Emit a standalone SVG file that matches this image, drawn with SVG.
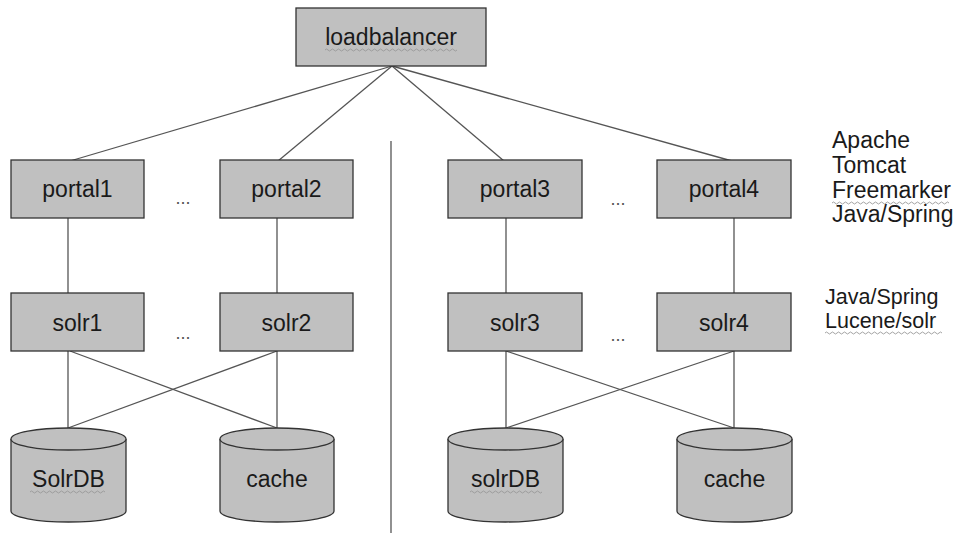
<svg xmlns="http://www.w3.org/2000/svg" width="961" height="540" viewBox="0 0 961 540">
<defs>
<style>
.box{fill:#c0c0c0;stroke:#333;stroke-width:1.3}
.lbl{font-family:"Liberation Sans",Arial,sans-serif;font-size:23px;fill:#1a1a1a;text-anchor:middle}
.side{font-family:"Liberation Sans",Arial,sans-serif;font-size:23px;fill:#1a1a1a}
.side2{font-family:"Liberation Sans",Arial,sans-serif;font-size:21.5px;fill:#1a1a1a}
.dots{font-family:"Liberation Sans",Arial,sans-serif;font-size:18px;fill:#555;text-anchor:middle}
.conn{stroke:#555;stroke-width:1.3;fill:none}
.sq{stroke:#999;stroke-width:0.9;fill:none}
</style>
</defs>
<rect width="961" height="540" fill="#fff"/>
<g id="connectors">
<line class="conn" x1="392" y1="66" x2="70" y2="161"/>
<line class="conn" x1="392" y1="66" x2="278" y2="161"/>
<line class="conn" x1="392" y1="66" x2="504" y2="161"/>
<line class="conn" x1="392" y1="66" x2="732" y2="161"/>
<line class="conn" x1="68" y1="218" x2="68" y2="293"/>
<line class="conn" x1="277" y1="218" x2="277" y2="293"/>
<line class="conn" x1="506" y1="218" x2="506" y2="293"/>
<line class="conn" x1="734" y1="218" x2="734" y2="293"/>
<line class="conn" x1="68" y1="351" x2="68" y2="428"/>
<line class="conn" x1="70" y1="351" x2="277" y2="428"/>
<line class="conn" x1="277" y1="351" x2="68" y2="428"/>
<line class="conn" x1="277" y1="351" x2="277" y2="428"/>
<line class="conn" x1="506" y1="351" x2="506" y2="428"/>
<line class="conn" x1="506" y1="351" x2="734" y2="428"/>
<line class="conn" x1="734" y1="351" x2="506" y2="428"/>
<line class="conn" x1="734" y1="351" x2="734" y2="428"/>
<line class="conn" x1="391" y1="141" x2="391" y2="533"/>
</g>
<g id="loadbalancer">
<rect class="box" x="296" y="8" width="190" height="58"/>
<text class="lbl" x="391" y="45">loadbalancer</text>
<path class="sq" d="M325,50 q1.5,-2 3,0 t3,0 t3,0 t3,0 t3,0 t3,0 t3,0 t3,0 t3,0 t3,0 t3,0 t3,0 t3,0 t3,0 t3,0 t3,0 t3,0 t3,0 t3,0 t3,0 t3,0 t3,0 t3,0 t3,0 t3,0 t3,0 t3,0 t3,0 t3,0 t3,0 t3,0 t3,0 t3,0 t3,0 t3,0 t3,0 t3,0 t3,0 t3,0 t3,0 t3,0 t3,0 t3,0 t3,0"/>
</g>
<g id="portal1"><rect class="box" x="11" y="160" width="133" height="58"/><text class="lbl" x="77.5" y="197">portal1</text></g>
<g id="portal2"><rect class="box" x="220" y="160" width="133" height="58"/><text class="lbl" x="286.5" y="197">portal2</text></g>
<g id="portal3"><rect class="box" x="448" y="160" width="134" height="58"/><text class="lbl" x="515" y="197">portal3</text></g>
<g id="portal4"><rect class="box" x="657" y="160" width="134" height="58"/><text class="lbl" x="724" y="197">portal4</text></g>
<g id="solr1"><rect class="box" x="11" y="293" width="133" height="58"/><text class="lbl" x="77.5" y="331">solr1</text></g>
<g id="solr2"><rect class="box" x="220" y="293" width="133" height="58"/><text class="lbl" x="286.5" y="331">solr2</text></g>
<g id="solr3"><rect class="box" x="448" y="293" width="134" height="58"/><text class="lbl" x="515" y="331">solr3</text></g>
<g id="solr4"><rect class="box" x="657" y="293" width="134" height="58"/><text class="lbl" x="724" y="331">solr4</text></g>
<g id="ellipses">
<text class="dots" x="183" y="204">...</text>
<text class="dots" x="183" y="339">...</text>
<text class="dots" x="618" y="205">...</text>
<text class="dots" x="618" y="341">...</text>
</g>
<g id="solrDB1">
<path class="box" d="M11,439 L11,511 A57.5,11 0 0 0 126,511 L126,439"/>
<ellipse class="box" cx="68.5" cy="439" rx="57.5" ry="11"/>
<text class="lbl" x="68.5" y="487">SolrDB</text>
<path class="sq" d="M30,492 q1.5,-2 3,0 t3,0 t3,0 t3,0 t3,0 t3,0 t3,0 t3,0 t3,0 t3,0 t3,0 t3,0 t3,0 t3,0 t3,0 t3,0 t3,0 t3,0 t3,0 t3,0 t3,0 t3,0 t3,0 t3,0 t3,0"/>
</g>
<g id="cache1">
<path class="box" d="M220,439 L220,511 A57,11 0 0 0 334,511 L334,439"/>
<ellipse class="box" cx="277" cy="439" rx="57" ry="11"/>
<text class="lbl" x="277" y="487">cache</text>
</g>
<g id="solrDB2">
<path class="box" d="M448,439 L448,511 A57.5,11 0 0 0 563,511 L563,439"/>
<ellipse class="box" cx="505.5" cy="439" rx="57.5" ry="11"/>
<text class="lbl" x="505.5" y="487">solrDB</text>
<path class="sq" d="M470,492 q1.5,-2 3,0 t3,0 t3,0 t3,0 t3,0 t3,0 t3,0 t3,0 t3,0 t3,0 t3,0 t3,0 t3,0 t3,0 t3,0 t3,0 t3,0 t3,0 t3,0 t3,0 t3,0 t3,0 t3,0 t3,0"/>
</g>
<g id="cache2">
<path class="box" d="M677,439 L677,511 A57.5,11 0 0 0 792,511 L792,439"/>
<ellipse class="box" cx="734.5" cy="439" rx="57.5" ry="11"/>
<text class="lbl" x="734.5" y="487">cache</text>
</g>
<g id="portal-stack">
<text class="side" x="832" y="148">Apache</text>
<text class="side" x="832" y="173">Tomcat</text>
<text class="side" x="832" y="198">Freemarker</text>
<path class="sq" d="M832,203 q1.5,-2 3,0 t3,0 t3,0 t3,0 t3,0 t3,0 t3,0 t3,0 t3,0 t3,0 t3,0 t3,0 t3,0 t3,0 t3,0 t3,0 t3,0 t3,0 t3,0 t3,0 t3,0 t3,0 t3,0 t3,0 t3,0 t3,0 t3,0 t3,0 t3,0 t3,0 t3,0 t3,0 t3,0 t3,0 t3,0 t3,0 t3,0 t3,0 t3,0"/>
<text class="side" x="832" y="222">Java/Spring</text>
</g>
<g id="solr-stack">
<text class="side2" x="825" y="304">Java/Spring</text>
<text class="side2" x="825" y="328">Lucene/solr</text>
<path class="sq" d="M825,333 q1.5,-2 3,0 t3,0 t3,0 t3,0 t3,0 t3,0 t3,0 t3,0 t3,0 t3,0 t3,0 t3,0 t3,0 t3,0 t3,0 t3,0 t3,0 t3,0 t3,0 t3,0 t3,0 t3,0 t3,0 t3,0 t3,0 t3,0 t3,0 t3,0 t3,0 t3,0 t3,0 t3,0 t3,0 t3,0 t3,0 t3,0 t3,0 t3,0 t3,0"/>
</g>
</svg>
